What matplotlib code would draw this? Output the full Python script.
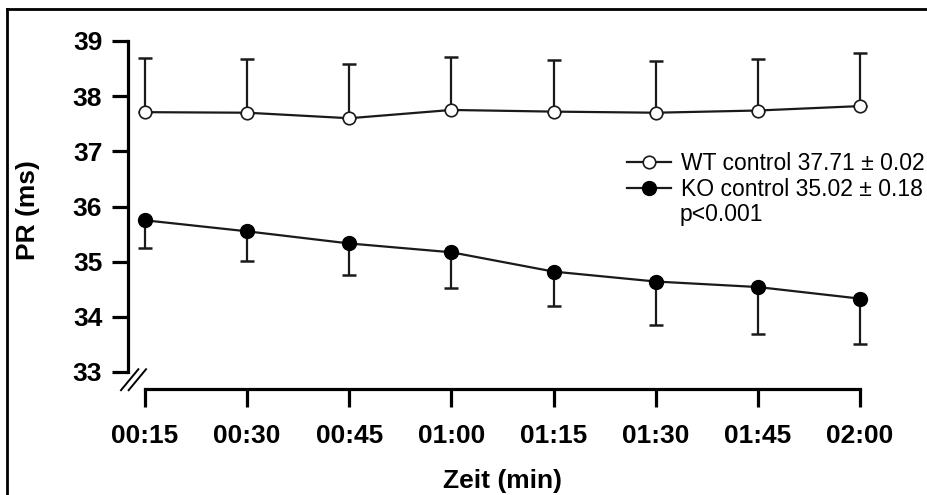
import matplotlib.pyplot as plt
from matplotlib.lines import Line2D

# Zeitpunkte und Messwerte (PR in ms)
zeit = ["00:15", "00:30", "00:45", "01:00", "01:15", "01:30", "01:45", "02:00"]
wt_mean = [37.71, 37.70, 37.60, 37.75, 37.72, 37.70, 37.74, 37.82]
wt_sem = [0.99, 0.97, 0.98, 0.96, 0.93, 0.94, 0.93, 0.97]
ko_mean = [35.75, 35.55, 35.33, 35.17, 34.82, 34.64, 34.54, 34.33]
ko_sem = [0.50, 0.53, 0.58, 0.65, 0.62, 0.78, 0.85, 0.82]

plt.rcParams['font.family'] = ['Liberation Sans', 'DejaVu Sans']

W, H = 928, 495
fig = plt.figure(figsize=(W / 100, H / 100), dpi=100)

# Pixel-Layout: x=0 bei 145 px, x=7 bei 860 px; y=33 bei 372 px, y=39 bei 41 px
px_x = (860 - 145) / 7
px_y = (372 - 41) / 6
x_lo, x_hi = -17 / px_x, 7.15
y_lo, y_hi = 33 - 17 / px_y, 39.05
left = 145 + x_lo * px_x
right = 145 + x_hi * px_x
top = 41 - (y_hi - 39) * px_y
bottom = 389
ax = fig.add_axes([left / W, 1 - bottom / H, (right - left) / W, (bottom - top) / H])

x = list(range(len(zeit)))
col = '#1a1a1a'

# WT: offene Kreise, Fehlerbalken nach oben
ax.errorbar(x, wt_mean, yerr=[[0] * len(x), wt_sem], fmt='none', ecolor=col,
            elinewidth=1.6, capsize=5, capthick=1.8)
ax.plot(x, wt_mean, '-o', color=col, lw=1.6, ms=9, mfc='white', mec=col, mew=1.2)

# KO: gefüllte Kreise, Fehlerbalken nach unten
ax.errorbar(x, ko_mean, yerr=[ko_sem, [0] * len(x)], fmt='none', ecolor=col,
            elinewidth=1.6, capsize=5, capthick=1.8)
ax.plot(x, ko_mean, '-o', color=col, lw=1.6, ms=10, mfc='black', mec='black')

ax.set_xlim(x_lo, x_hi)
ax.set_ylim(y_lo, y_hi)

ax.spines['top'].set_visible(False)
ax.spines['right'].set_visible(False)
ax.spines['left'].set_linewidth(2.3)
ax.spines['bottom'].set_linewidth(2.3)
ax.spines['left'].set_bounds(33, 39)
ax.spines['bottom'].set_bounds(0, 7)

ax.set_xticks(x)
ax.set_xticklabels(zeit)
ax.set_yticks(range(33, 40))
ax.tick_params(axis='both', direction='out', width=2.3, labelsize=19)
ax.tick_params(axis='y', length=11.5, pad=7)
ax.tick_params(axis='x', length=13, pad=12)
for lab in ax.get_xticklabels() + ax.get_yticklabels():
    lab.set_fontweight('bold')

ax.set_ylabel('PR (ms)', fontsize=19, fontweight='bold')
ax.yaxis.set_label_coords(40 / W, 1 - 210 / H, transform=fig.transFigure)
ax.set_xlabel('Zeit (min)', fontsize=19, fontweight='bold')
ax.xaxis.set_label_coords(503 / W, 1 - 469 / H, transform=fig.transFigure)

# Achsenbruch //
for dx in (0, 0.075):
    ax.plot([-0.235 + dx, -0.065 + dx], [32.67, 33.05], color='black', lw=1.4, clip_on=False)

# Legende
handles = [
    Line2D([], [], color=col, lw=1.6, marker='o', ms=9, mfc='white', mec=col, mew=1.2),
    Line2D([], [], color=col, lw=1.6, marker='o', ms=10, mfc='black', mec='black'),
]
labels = ['WT control 37.71 ± 0.02', 'KO control 35.02 ± 0.18']
fig.legend(handles, labels, loc='upper left', bbox_to_anchor=(627 / W, 1 - 152 / H),
           frameon=False, fontsize=16.5, handlelength=1.9, handletextpad=0.45,
           labelspacing=0.12, borderpad=0, borderaxespad=0)
fig.text(680 / W, 1 - 215 / H, 'p<0.001', fontsize=16.5, va='center')

# Rahmen oben und links
fig.add_artist(Line2D([7 / W, 1], [1 - 9 / H, 1 - 9 / H], color='black', lw=2,
                      transform=fig.transFigure))
fig.add_artist(Line2D([7 / W, 7 / W], [0, 1 - 9 / H], color='black', lw=2,
                      transform=fig.transFigure))

fig.savefig('out.png', dpi=100)
